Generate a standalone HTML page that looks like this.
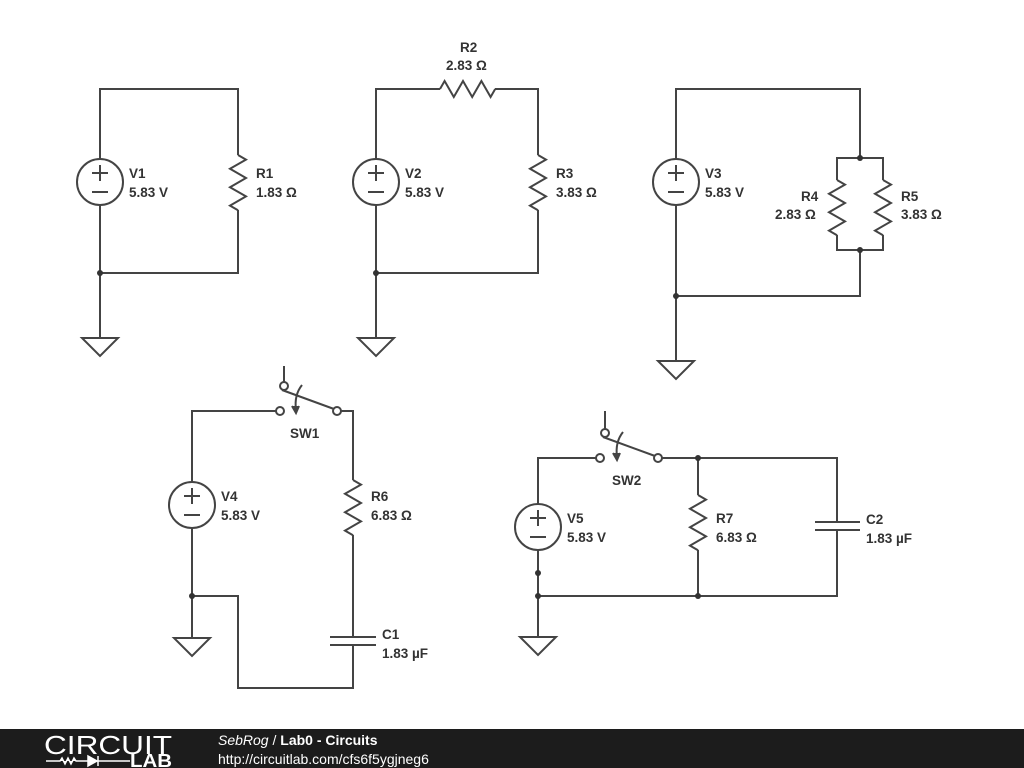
<!DOCTYPE html>
<html><head><meta charset="utf-8"><style>
html,body{margin:0;padding:0;background:#fff;width:1024px;height:768px;overflow:hidden}
svg{display:block}
text{font-family:"Liberation Sans",Arial,sans-serif;font-weight:bold;font-size:13.5px;fill:#333}
</style></head><body>
<svg width="1024" height="768" viewBox="0 0 1024 768" xmlns="http://www.w3.org/2000/svg">
<defs>
<path id="rv" d="M0 0 l8 4.6 l-16 9.2 l16 9.2 l-16 9.2 l16 9.2 l-16 9.2 l8 4.6" fill="none"/>
<g id="vs"><circle cx="0" cy="0" r="23" fill="#fff"/><path d="M-8 -9 h16 M0 -17 v16 M-8 10 h16"/></g>
<path id="gnd" d="M-18 0 h36 l-18 18 z" fill="none"/>
</defs>
<g stroke="#444" stroke-width="2" fill="none">
<!-- Circuit 1 -->
<path d="M100 159 V89 H238 V155 M238 210 V273 H100 V205 M100 273 V338"/>
<use href="#rv" x="238" y="155"/>
<use href="#vs" x="100" y="182"/>
<use href="#gnd" x="100" y="338"/>
<!-- Circuit 2 -->
<path d="M376 159 V89 H440 M495 89 H538 V155 M538 210 V273 H376 V205 M376 273 V338"/>
<path d="M440 89 l4.6 -8 l9.2 16 l9.2 -16 l9.2 16 l9.2 -16 l9.2 16 l4.6 -8"/>
<use href="#rv" x="538" y="155"/>
<use href="#vs" x="376" y="182"/>
<use href="#gnd" x="376" y="338"/>
<!-- Circuit 3 -->
<path d="M676 159 V89 H860 V158 M837 180 V158 H883 V180 M837 235 V250 H883 V235 M860 250 V296 H676 V205 M676 296 V361"/>
<use href="#rv" x="837" y="180"/>
<use href="#rv" x="883" y="180"/>
<use href="#vs" x="676" y="182"/>
<use href="#gnd" x="676" y="361"/>
<!-- Circuit 4 -->
<path d="M192 482 V411 H276 M341 411 H353 V480 M353 535 V637 M353 645 V688 H238 V596 H192 M192 528 V638"/>
<circle cx="280" cy="411" r="4" fill="#fff"/>
<circle cx="337" cy="411" r="4" fill="#fff"/>
<circle cx="284" cy="386" r="4" fill="#fff"/>
<path d="M284 382 V366 M282 390 L334 409"/>
<path d="M302 385 Q294 395 296 410"/>
<path d="M292 406 L296 413 L299 406" fill="#444"/>
<path d="M330 637 H376 M330 645 H376"/>
<use href="#rv" x="353" y="480"/>
<use href="#vs" x="192" y="505"/>
<use href="#gnd" x="192" y="638"/>
<!-- Circuit 5 -->
<path d="M538 504 V458 H596 M662 458 H837 V522 M837 530 V596 H538 V550 M538 596 V637 M698 458 V495 M698 550 V596"/>
<circle cx="600" cy="458" r="4" fill="#fff"/>
<circle cx="658" cy="458" r="4" fill="#fff"/>
<circle cx="605" cy="433" r="4" fill="#fff"/>
<path d="M605 429 V411 M603 437 L655 456"/>
<path d="M623 432 Q615 442 617 457"/>
<path d="M613 453 L617 460 L620 453" fill="#444"/>
<path d="M815 522 H860 M815 530 H860"/>
<use href="#rv" x="698" y="495"/>
<use href="#vs" x="538" y="527"/>
<use href="#gnd" x="538" y="637"/>
</g>
<g fill="#333">
<circle cx="100" cy="273" r="3"/><circle cx="376" cy="273" r="3"/>
<circle cx="860" cy="158" r="3"/><circle cx="860" cy="250" r="3"/><circle cx="676" cy="296" r="3"/>
<circle cx="192" cy="596" r="3"/>
<circle cx="698" cy="458" r="3"/><circle cx="698" cy="596" r="3"/><circle cx="538" cy="596" r="3"/><circle cx="538" cy="573" r="3"/>
</g>
<text x="129" y="178">V1</text><text x="129" y="197">5.83 V</text>
<text x="256" y="178">R1</text><text x="256" y="197">1.83 Ω</text>
<text x="460" y="52">R2</text><text x="446" y="70">2.83 Ω</text>
<text x="405" y="178">V2</text><text x="405" y="197">5.83 V</text>
<text x="556" y="178">R3</text><text x="556" y="197">3.83 Ω</text>
<text x="705" y="178">V3</text><text x="705" y="197">5.83 V</text>
<text x="801" y="201">R4</text><text x="775" y="219">2.83 Ω</text>
<text x="901" y="201">R5</text><text x="901" y="219">3.83 Ω</text>
<text x="290" y="438">SW1</text>
<text x="221" y="501">V4</text><text x="221" y="520">5.83 V</text>
<text x="371" y="501">R6</text><text x="371" y="520">6.83 Ω</text>
<text x="382" y="639">C1</text><text x="382" y="658">1.83 µF</text>
<text x="612" y="485">SW2</text>
<text x="567" y="523">V5</text><text x="567" y="542">5.83 V</text>
<text x="716" y="523">R7</text><text x="716" y="542">6.83 Ω</text>
<text x="866" y="524">C2</text><text x="866" y="543">1.83 µF</text>
<rect x="0" y="729" width="1024" height="39" fill="#1c1c1c"/>
<text x="44" y="754" textLength="128" lengthAdjust="spacingAndGlyphs" style="font-weight:normal;font-size:26px;fill:#fff">CIRCUIT</text>
<path d="M46 761 H60 l2 -3 l3 6 l3 -6 l3 6 l3 -6 l2 3 H98 M98 756 v10 M88 756 v10 l9 -5 z M98 761 H130" stroke="#fff" stroke-width="1.5" fill="#fff"/>
<text x="130" y="767" textLength="42" lengthAdjust="spacingAndGlyphs" style="font-size:18px;fill:#fff">LAB</text>
<text x="218" y="745" style="font-weight:normal;font-style:italic;font-size:14px;fill:#fff">SebRog <tspan style="font-style:normal">/</tspan> <tspan style="font-style:normal;font-weight:bold">Lab0 - Circuits</tspan></text>
<text x="218" y="764" style="font-weight:normal;font-size:14px;fill:#fff">http://circuitlab.com/cfs6f5ygjneg6</text>
</svg>
</body></html>
